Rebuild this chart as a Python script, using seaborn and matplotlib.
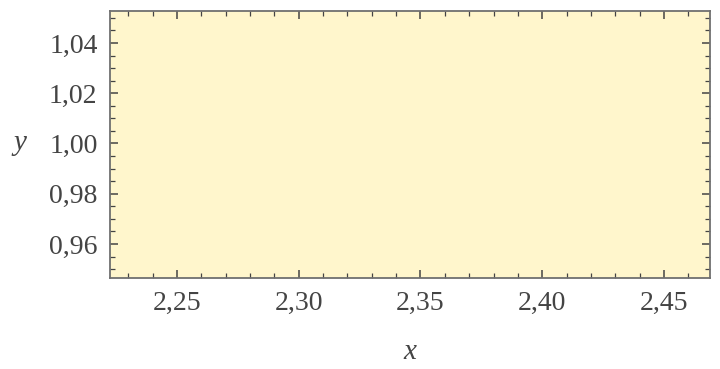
import matplotlib
matplotlib.use("Agg")
import matplotlib.pyplot as plt
import seaborn as sns
import pandas as pd
from matplotlib.ticker import MultipleLocator, FuncFormatter

# Data (the region plot is fully filled; no visible curves)
x_values = []
y_values = []
x_ticks = [2.25, 2.30, 2.35, 2.40, 2.45]
y_ticks = [0.96, 0.98, 1.00, 1.02, 1.04]
x_limits = [2.2225, 2.4689]
y_limits = [0.9465, 1.0527]

sns.set_theme(style="white")
plt.rcParams['font.family'] = ['Liberation Serif', 'DejaVu Serif']

fig = plt.figure(figsize=(7.2, 3.69), dpi=100)
ax = fig.add_axes([110/720, 1 - 278/369, 600/720, 267/369])

df = pd.DataFrame({"x": x_values, "y": y_values}, dtype=float)
sns.lineplot(data=df, x="x", y="y", ax=ax)

ax.set_facecolor('#fff6cc')
ax.set_xlim(*x_limits)
ax.set_ylim(*y_limits)
ax.set_xticks(x_ticks)
ax.set_yticks(y_ticks)
ax.xaxis.set_minor_locator(MultipleLocator(0.01))
ax.yaxis.set_minor_locator(MultipleLocator(0.005))
fmt = FuncFormatter(lambda v, p: f"{v:.2f}".replace('.', ','))
ax.xaxis.set_major_formatter(fmt)
ax.yaxis.set_major_formatter(fmt)

for s in ax.spines.values():
    s.set_color('#707070')
    s.set_linewidth(1.3)
ax.tick_params(which='both', direction='in', top=True, right=True,
               bottom=True, left=True, color='#444444', labelcolor='#444444',
               labelsize=20)
ax.tick_params(which='major', length=6, width=1.1, pad=9)
ax.tick_params(which='minor', length=3.5, width=0.9)

ax.set_xlabel('x', fontsize=21, style='italic', color='#444444', labelpad=17)
ax.set_ylabel('y', fontsize=21, style='italic', color='#444444', rotation=0,
              labelpad=10, va='center')
ax.yaxis.set_label_coords(-0.15, (1.00 - y_limits[0]) / (y_limits[1] - y_limits[0]))

fig.savefig('out.png', dpi=100, facecolor='white')
